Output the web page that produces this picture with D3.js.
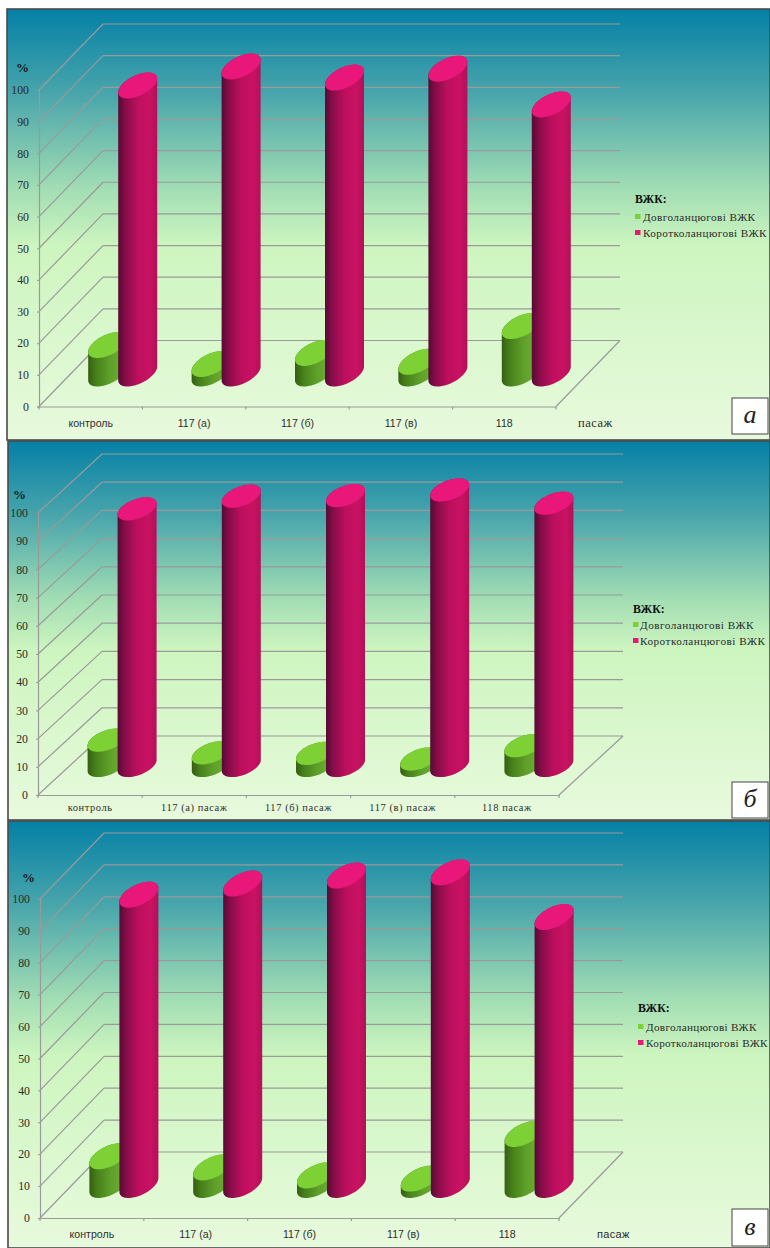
<!DOCTYPE html>
<html><head><meta charset="utf-8">
<script src="https://cdn.jsdelivr.net/npm/d3@7/dist/d3.min.js"></script>
<style>html,body{margin:0;padding:0;background:#fff}svg{display:block}</style>
</head><body>
<div id="chart"></div>
<script>
const seriesNames = ["Довголанцюгові ВЖК", "Коротколанцюгові ВЖК"];
const legendTitle = "ВЖК:";
const yTicks = [0,10,20,30,40,50,60,70,80,90,100];
const categoriesA = ["контроль","117 (а)","117 (б)","117 (в)","118"];
const categoriesB = ["контроль","117 (а) пасаж","117 (б) пасаж","117 (в) пасаж","118 пасаж"];
const categoriesC = ["контроль","117 (а)","117 (б)","117 (в)","118"];
const longA = [9,3,6.5,3.7,15];
const shortA = [91,97,93.5,96.3,85];
const longB = [9,4.5,4.3,2.3,7];
const shortB = [91,95.5,95.7,97.7,93];
const longC = [9,5.5,3,2,16];
const shortC = [91,94.5,97,98,84];

const panels = [
 {id:"a",letter:"а",cats:categoriesA,long:longA,short:shortA,top:9,bottom:440,left:7,x0:39,x1:556,y0:406.5,y100:90,dx:64,dy:66,
  tickX:29,pct:[16,72],catY:427,catFont:"Liberation Sans",catSize:10.6,catSpacing:0,axisLabel:[578,427,"Liberation Serif",12.5,.5],
  legend:[635,203,221,237,643],legendSpacing:.42,box:[732,398,36,36]},
 {id:"b",letter:"б",cats:categoriesB,long:longB,short:shortB,top:441,bottom:820,left:8,x0:38,x1:559,y0:795,y100:513,dx:64,dy:59,
  tickX:28,pct:[13,499],catY:812,catFont:"Liberation Serif",catSize:10.5,catSpacing:.55,axisLabel:null,
  legend:[633,613,629,645,640],legendSpacing:.5,box:[732,782,36,36]},
 {id:"c",letter:"в",cats:categoriesC,long:longC,short:shortC,top:821,bottom:1248,left:8,x0:40,x1:559,y0:1218,y100:899,dx:64,dy:66,
  tickX:30,pct:[22,882],catY:1238,catFont:"Liberation Sans",catSize:10.6,catSpacing:0,axisLabel:[597,1238,"Liberation Sans",11,.3],
  legend:[638,1012,1031,1047,646],legendSpacing:.32,box:[732,1209,36,37]}
];

const svg = d3.select("#chart").append("svg").attr("width",770).attr("height",1248);
const defs = svg.append("defs");

function linear(id,stops,horizontal){
  const g = defs.append("linearGradient").attr("id",id)
    .attr("x1",0).attr("y1",0).attr("x2",horizontal?1:0).attr("y2",horizontal?0:1);
  stops.forEach(s=>g.append("stop").attr("offset",s[0]).attr("stop-color",s[1]));
}
linear("bg",[[0,"#0480a6"],[.2,"#4aa6ab"],[.42,"#a3deb4"],[.55,"#cdf5bf"],[1,"#e8fadd"]]);
linear("sidePink",[[0,"#560a33"],[.18,"#860d49"],[.5,"#bd0f5d"],[.8,"#c91263"],[1,"#b31058"]],true);
linear("sideGreen",[[0,"#355f12"],[.2,"#46801b"],[.55,"#5f9f2a"],[1,"#6fb632"]],true);

const topColor = ["#7dd135","#e9177a"];
const sideFill = ["url(#sideGreen)","url(#sidePink)"];
const barW = 39, overlap = 9;
const ease = d3.line().x(d=>d[0]).y(d=>d[1]);

function drawPanel(p){
  const g = svg.append("g");
  g.append("rect").attr("x",p.left).attr("y",p.top).attr("width",770-p.left).attr("height",p.bottom-p.top)
    .attr("fill","url(#bg)").attr("stroke","#4a4a4a").attr("stroke-width",1.6);
  const y = d3.scaleLinear().domain([0,100]).range([p.y0,p.y100]);
  const x = d3.scaleBand().domain(p.cats).range([p.x0,p.x1]);
  const gridC = "#9a9a9a";
  const line = (x1,y1,x2,y2)=>g.append("line").attr("x1",x1).attr("y1",y1).attr("x2",x2).attr("y2",y2)
    .attr("stroke",gridC).attr("stroke-width",1.2);
  yTicks.forEach(t=>{
    line(p.x0,y(t),p.x0+p.dx,y(t)-p.dy);
    line(p.x0+p.dx,y(t)-p.dy,p.x1+p.dx,y(t)-p.dy);
  });
  line(p.x1,p.y0,p.x1+p.dx,p.y0-p.dy);
  const ya = g.append("g").attr("transform",`translate(${p.x0},0)`)
    .call(d3.axisLeft(y).tickValues(yTicks).tickSize(2).tickPadding(p.x0-p.tickX-2));
  ya.select(".domain").attr("stroke",gridC).attr("stroke-width",1.2);
  ya.selectAll("line").attr("stroke",gridC);
  ya.selectAll("text").attr("font-family","Liberation Serif").attr("font-size",11.8).attr("fill","#2b2b2b");
  const xa = g.append("g").attr("transform",`translate(0,${p.y0})`)
    .call(d3.axisBottom(x).tickSize(0).tickPadding(p.catY-p.y0-8));
  xa.select(".domain").attr("stroke",gridC).attr("stroke-width",1.2);
  xa.selectAll("text").attr("font-family",p.catFont).attr("font-size",p.catSize)
    .attr("letter-spacing",p.catSpacing).attr("fill","#2f2f2f");
  x.domain().forEach(c=>{
    const tx = x(c)+x.bandwidth();
    line(tx,p.y0,tx,p.y0+3);
  });
  line(p.x0,p.y0,p.x0,p.y0+3);
  g.append("text").attr("x",p.pct[0]).attr("y",p.pct[1]).text("%")
    .attr("font-family","Liberation Serif").attr("font-weight","bold").attr("font-size",13).attr("fill","#1a1a1a");
  if(p.axisLabel){
    g.append("text").attr("x",p.axisLabel[0]).attr("y",p.axisLabel[1]).text("пасаж")
      .attr("font-family",p.axisLabel[2]).attr("font-size",p.axisLabel[3]).attr("letter-spacing",p.axisLabel[4]).attr("fill","#2b2b2b");
  }
  const c = 13*(p.dy/66), b = c*0.8, a = Math.sqrt(Math.max(barW*barW/4-b*b,1));
  const t0 = Math.atan2(b,a);
  const pt = (cx,cy,t)=>[cx+a*Math.cos(t)+b*Math.sin(t), cy-c*Math.sin(t)];
  const floorY = y(0)-p.dy/2;
  const scaleH = v=>floorY-(y(0)-y(v));
  const shift = p.dx/2;
  function cylinder(cat,value,si){
    const mid = x(cat)+x.bandwidth()/2+shift;
    const cx = si===0 ? mid-(barW-overlap)/2 : mid+(barW-overlap)/2;
    const topY = scaleH(value);
    const side = [];
    const n = 40;
    d3.range(n+1).forEach(i=>{
      side.push(pt(cx,floorY,t0 - i/n*Math.PI));
    });
    side.push(pt(cx,topY,t0-Math.PI));
    d3.range(1,n).forEach(i=>{ side.push(pt(cx,topY,t0-Math.PI-i/n*Math.PI)); });
    side.push(pt(cx,topY,t0));
    g.append("path").attr("d",ease(side)+"Z").attr("fill",sideFill[si]);
    const cap = d3.range(81).map(i=>pt(cx,topY,i/80*2*Math.PI));
    g.append("path").attr("d",ease(cap)+"Z").attr("fill",topColor[si]);
  }
  p.cats.forEach((cat,i)=>{
    cylinder(cat,p.long[i],0);
    cylinder(cat,p.short[i],1);
  });
  const [lx,ly,l1,l2,tx] = p.legend;
  g.append("text").attr("x",lx).attr("y",ly).text(legendTitle)
    .attr("font-family","Liberation Serif").attr("font-weight","bold").attr("font-size",11.8).attr("fill","#111");
  seriesNames.forEach((s,i)=>{
    const yy = i?l2:l1;
    g.append("rect").attr("x",lx).attr("y",yy-7).attr("width",5.5).attr("height",5).attr("fill",topColor[i]);
    g.append("text").attr("x",tx).attr("y",yy).text(s)
      .attr("font-family","Liberation Serif").attr("font-size",11.2).attr("letter-spacing",p.legendSpacing).attr("fill","#2b2b2b");
  });
  const [bx,by,bw,bh] = p.box;
  g.append("rect").attr("x",bx).attr("y",by).attr("width",bw).attr("height",bh)
    .attr("fill","#fff").attr("stroke","#444").attr("stroke-width",1);
  g.append("text").attr("x",bx+bw/2).attr("y",by+bh/2+7).attr("text-anchor","middle").text(p.letter)
    .attr("font-family","Liberation Serif").attr("font-style","italic").attr("font-size",26).attr("fill","#222");
}
panels.forEach(drawPanel);
</script>
</body></html>
